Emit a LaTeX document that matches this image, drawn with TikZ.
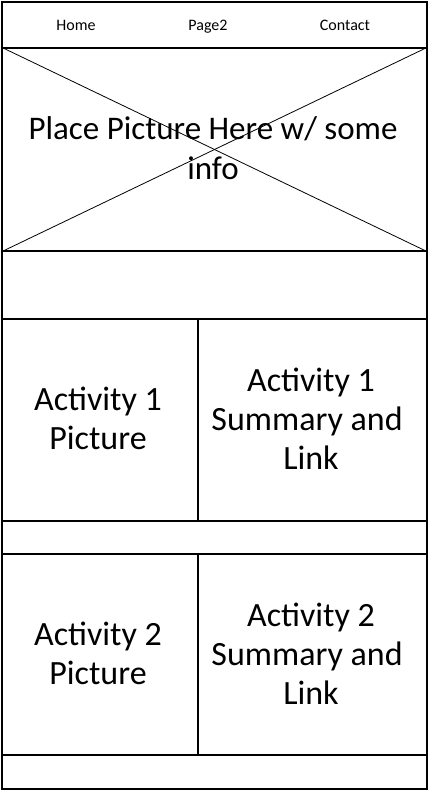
\documentclass[tikz,border=0pt]{standalone}
\usepackage{fontspec}
\setmainfont{Carlito}
\begin{document}
\begin{tikzpicture}[x=1pt,y=-1pt,
  frame/.style={draw=black,line width=2pt,anchor=north west,inner sep=0pt},
  navtext/.style={font=\fontsize{16}{18}\selectfont,anchor=base},
  herotext/.style={font=\fontsize{33}{40}\selectfont,align=center,anchor=center,inner sep=0pt},
  bigtext/.style={font=\fontsize{34}{39}\selectfont,align=center,anchor=center,inner sep=0pt},
  cross/.style={draw=black,line width=0.8pt}]
  \useasboundingbox (0,0) rectangle (428,790);
  % page regions
  \node[frame,minimum width=425pt,minimum height=46pt] (nav) at (1,1) {};
  \node[frame,minimum width=425pt,minimum height=203pt] (hero) at (1,47) {};
  \node[frame,minimum width=425pt,minimum height=68pt] (gapA) at (1,250) {};
  \node[frame,minimum width=196pt,minimum height=202pt] (pic1) at (1,318) {};
  \node[frame,minimum width=229pt,minimum height=202pt] (sum1) at (197,318) {};
  \node[frame,minimum width=425pt,minimum height=33pt] (gapB) at (1,520) {};
  \node[frame,minimum width=196pt,minimum height=201pt] (pic2) at (1,553) {};
  \node[frame,minimum width=229pt,minimum height=201pt] (sum2) at (197,553) {};
  \node[frame,minimum width=425pt,minimum height=34pt] (foot) at (1,754) {};
  % image placeholder cross
  \draw[cross] (hero.north west) -- (hero.south east);
  \draw[cross] (hero.south west) -- (hero.north east);
  % navigation
  \node[navtext] (home) at (76,30) {Home};
  \node[navtext] (page2) at (208,30) {Page2};
  \node[navtext] (contact) at (345,30) {Contact};
  % texts (the middle line keeps its trailing space)
  \node[herotext] (herotxt) at (213,148) {Place Picture Here w/ some\\info};
  \node[bigtext] (p1) at (98,418) {Activity 1\\Picture};
  \node[bigtext] (s1) at (311,419) {Activity 1\\Summary and\rule{0.23em}{0pt}\\Link};
  \node[bigtext] (p2) at (98,653) {Activity 2\\Picture};
  \node[bigtext] (s2) at (311,654) {Activity 2\\Summary and\rule{0.23em}{0pt}\\Link};
\end{tikzpicture}
\end{document}
